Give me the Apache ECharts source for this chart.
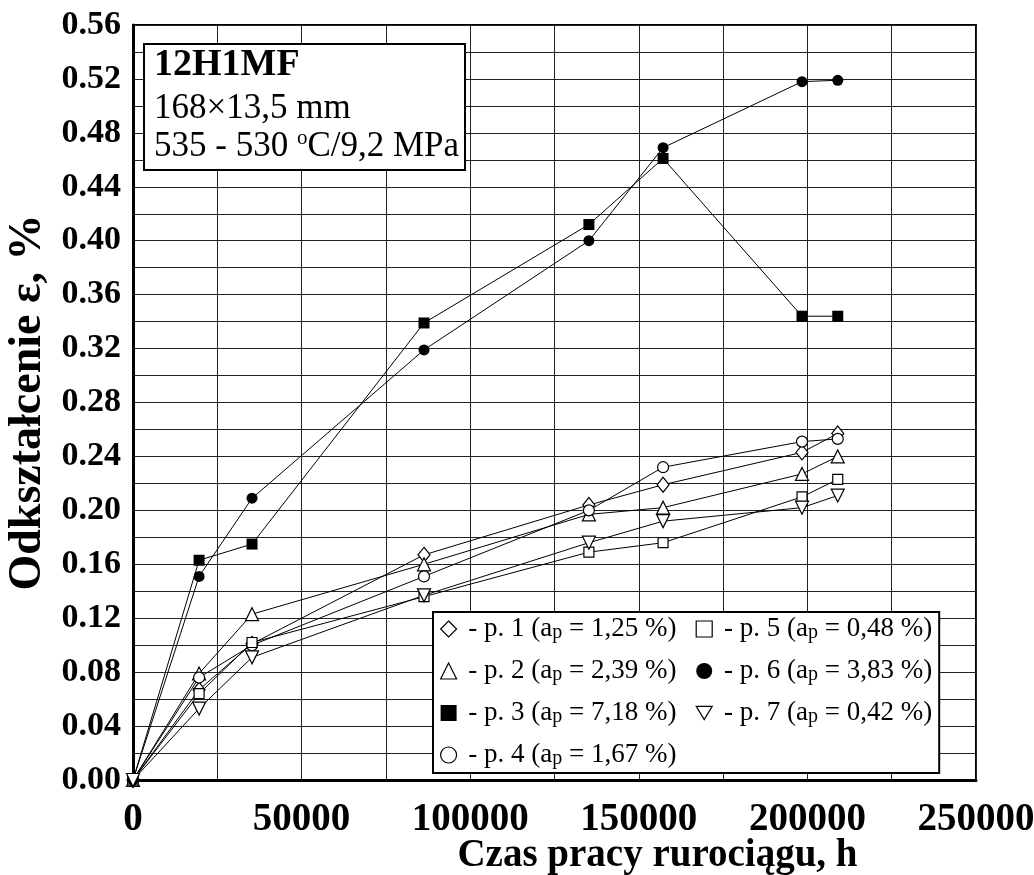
<!DOCTYPE html>
<html><head><meta charset="utf-8">
<script src="https://cdn.jsdelivr.net/npm/echarts/dist/echarts.min.js"></script>
<style>html,body{margin:0;padding:0;background:#fff}#c{width:1034px;height:875px}</style>
</head><body><div id="c"></div>
<script>
// ---- data ----
const hours = [0, 19600, 35300, 86300, 135200, 157200, 198400, 209000];
const p1 = [0, 0.067, 0.101, 0.167, 0.204, 0.219, 0.243, 0.257];
const p2 = [0, 0.079, 0.123, 0.160, 0.197, 0.202, 0.227, 0.240];
const p3 = [0, 0.163, 0.175, 0.339, 0.412, 0.461, 0.344, 0.344];
const p4 = [0, 0.076, 0.100, 0.151, 0.200, 0.232, 0.251, 0.253];
const p5 = [0, 0.064, 0.102, 0.136, 0.169, 0.176, 0.210, 0.223];
const p6 = [0, 0.151, 0.209, 0.319, 0.400, 0.469, 0.518, 0.519];
const p7 = [0, 0.053, 0.091, 0.137, 0.176, 0.192, 0.202, 0.211];
const seriesNames = ['p. 1', 'p. 2', 'p. 3', 'p. 4', 'p. 5', 'p. 6', 'p. 7'];
const apValues = ['1,25', '2,39', '7,18', '1,67', '0,48', '3,83', '0,42'];
const xTickLabels = [0, 50000, 100000, 150000, 200000, 250000];
const boxLines = ['12H1MF', '168×13,5 mm', '535 - 530 ', 'o', 'C/9,2 MPa'];
const xTitle = 'Czas pracy rurociągu, h';
const yTitle = 'Odkształcenie ε, %';

const values = [p1, p2, p3, p4, p5, p6, p7];

// ---- styles ----
const FONT = '"Liberation Serif", "Times New Roman", serif';
const markerStyles = [
  {symbol: 'diamond', size: [12, 15], filled: false, rotate: 0, icon: 'diamond'},
  {symbol: 'triangle', size: 13, filled: false, rotate: 0, icon: 'triangle'},
  {symbol: 'rect', size: 11, filled: true, rotate: 0, icon: 'rect'},
  {symbol: 'circle', size: 11, filled: false, rotate: 0, icon: 'circle'},
  {symbol: 'rect', size: 10, filled: false, rotate: 0, icon: 'rect'},
  {symbol: 'circle', size: 11, filled: true, rotate: 0, icon: 'circle'},
  {symbol: 'triangle', size: 13, filled: false, rotate: 180, icon: 'path://M0,0L12,0L6,10Z'}
];

const series = seriesNames.map((name, i) => {
  const m = markerStyles[i];
  return {
    name: name,
    type: 'line',
    data: hours.map((h, j) => [h, values[i][j]]),
    symbol: m.symbol,
    symbolSize: m.size,
    symbolRotate: m.rotate,
    showAllSymbol: true,
    lineStyle: {color: '#000', width: 1},
    itemStyle: m.filled ? {color: '#000', borderColor: '#000', borderWidth: 0}
                        : {color: '#fff', borderColor: '#000', borderWidth: 1.2},
    emphasis: {disabled: true},
    z: 3
  };
});

const legendData = seriesNames.map((name, i) => {
  const m = markerStyles[i];
  return {
    name: name,
    icon: m.icon,
    itemStyle: m.filled ? {color: '#000', borderColor: '#000', borderWidth: 0}
                        : {color: '#fff', borderColor: '#000', borderWidth: 1.2}
  };
});

const chart = echarts.init(document.getElementById('c'), null, {renderer: 'canvas'});
chart.setOption({
  animation: false,
  backgroundColor: '#fff',
  grid: {left: 133, right: 58, top: 25, bottom: 95, show: true, borderColor: '#000', borderWidth: 2,
         backgroundColor: '#fff', containLabel: false, outerBoundsMode: 'none'},
  title: {
    text: '{b|' + boxLines[0] + '}\n{r|' + boxLines[1] + '}\n{r|' + boxLines[2] + '}{sup|' + boxLines[3] + '}{r|' + boxLines[4] + '}',
    left: 144, top: 38,
    padding: [2, 6, 6, 10],
    borderColor: '#000', borderWidth: 2, backgroundColor: '#fff',
    textStyle: {
      fontFamily: FONT, color: '#000', fontSize: 35, fontWeight: 'normal',
      rich: {
        b: {fontFamily: FONT, fontSize: 38, fontWeight: 'bold', lineHeight: 50, color: '#000'},
        r: {fontFamily: FONT, fontSize: 35, fontWeight: 'normal', lineHeight: 38, color: '#000'},
        sup: {fontFamily: FONT, fontSize: 21, fontWeight: 'normal', lineHeight: 16, verticalAlign: 'top', color: '#000'}
      }
    }
  },
  legend: {
    data: legendData,
    orient: 'vertical',
    left: 433, top: 612,
    height: 160,
    padding: [3, 2, 4, 7],
    itemWidth: 16, itemHeight: 16, itemGap: 14,
    selectedMode: false,
    borderColor: '#000', borderWidth: 2, backgroundColor: '#fff',
    formatter: name => {
      const i = seriesNames.indexOf(name);
      return ' - ' + name + ' (a{sub|p} = ' + apValues[i] + ' %)';
    },
    textStyle: {
      fontFamily: FONT, fontSize: 27, color: '#000', lineHeight: 28, width: 220,
      rich: {
        sub: {fontFamily: FONT, fontSize: 20, lineHeight: 8, verticalAlign: 'bottom', color: '#000'}
      }
    }
  },
  xAxis: {
    type: 'value', min: 0, max: 250000, interval: 25000,
    name: xTitle, nameLocation: 'middle', nameGap: 56, nameMoveOverlap: false,
    nameTextStyle: {fontFamily: FONT, fontWeight: 'bold', fontSize: 39, color: '#000', padding: [0, 0, 0, 206]},
    axisLine: {show: true, onZero: false, lineStyle: {color: '#000', width: 3}},
    axisTick: {show: false},
    axisLabel: {
      show: true, showMinLabel: true, showMaxLabel: true, hideOverlap: false,
      fontFamily: FONT, fontWeight: 'bold', fontSize: 39, color: '#000', margin: 20,
      formatter: v => (xTickLabels.indexOf(v) >= 0 ? String(v) : '')
    },
    splitLine: {show: true, lineStyle: {color: '#222', width: 1}}
  },
  yAxis: {
    type: 'value', min: 0, max: 0.56, interval: 0.02,
    name: yTitle, nameLocation: 'middle', nameGap: 82, nameMoveOverlap: false,
    nameTextStyle: {fontFamily: FONT, fontWeight: 'bold', fontSize: 46, color: '#000'},
    axisLine: {show: true, onZero: false, lineStyle: {color: '#000', width: 3}},
    axisTick: {show: false},
    axisLabel: {
      show: true, showMinLabel: true, showMaxLabel: true, hideOverlap: false,
      fontFamily: FONT, fontWeight: 'bold', fontSize: 34, color: '#000', margin: 12,
      formatter: v => (Math.round(v * 100) % 4 === 0 ? v.toFixed(2) : '')
    },
    splitLine: {show: true, lineStyle: {color: '#222', width: 1}}
  },
  series: series
});
</script>
</body></html>
